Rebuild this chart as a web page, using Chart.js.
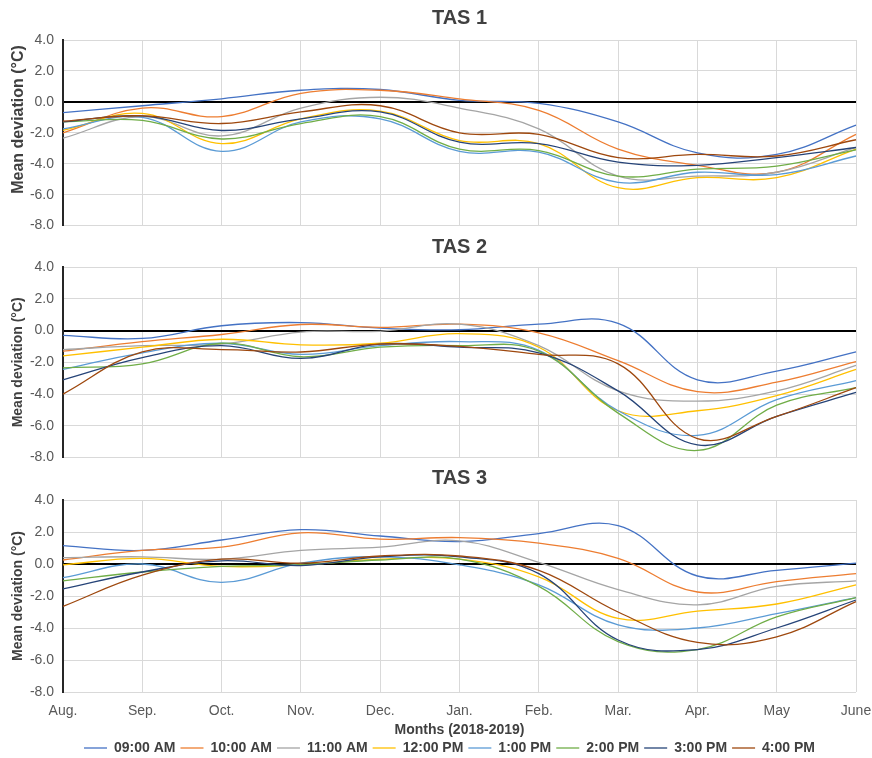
<!DOCTYPE html>
<html>
<head>
<meta charset="utf-8">
<script src="https://cdn.jsdelivr.net/npm/chart.js@4.4.1/dist/chart.umd.min.js"></script>
<style>
  body { margin: 0; background: #fff; width: 872px; height: 758px; overflow: hidden; position: relative; }
  canvas { position: absolute; left: 0; }
</style>
</head>
<body>
<canvas id="tas1" width="872" height="243" style="top:0"></canvas>
<canvas id="tas2" width="872" height="240" style="top:235px"></canvas>
<canvas id="tas3" width="900" height="292" style="top:466px"></canvas>
<script>
const months = ["Aug.", "Sep.", "Oct.", "Nov.", "Dec.", "Jan.", "Feb.", "Mar.", "Apr.", "May", "June"];
const hours = ["09:00 AM", "10:00 AM", "11:00 AM", "12:00 PM", "1:00 PM", "2:00 PM", "3:00 PM", "4:00 PM"];
const lineColors = ["#4472C4", "#ED7D31", "#A5A5A5", "#FFC000", "#5B9BD5", "#70AD47", "#264478", "#9E480E"];
const yTicks = [4, 2, 0, -2, -4, -6, -8];

// one row per hour, one value per month
const tas1 = [
  [-0.7, -0.25, 0.2, 0.75, 0.8, 0.1, -0.1, -1.3, -3.3, -3.4, -1.5],
  [-2.0, -0.4, -0.95, 0.55, 0.75, 0.2, -0.55, -3.05, -4.1, -4.55, -2.1],
  [-2.35, -0.95, -2.2, -0.4, 0.3, -0.4, -1.75, -4.8, -4.8, -4.55, -2.95],
  [-1.85, -0.75, -2.7, -1.1, -0.6, -2.5, -2.7, -5.55, -4.9, -4.9, -3.05],
  [-1.75, -1.0, -3.2, -1.3, -1.1, -3.2, -3.25, -5.2, -4.55, -4.7, -3.5],
  [-1.3, -1.2, -2.4, -1.4, -0.95, -3.05, -3.15, -4.8, -4.35, -4.15, -3.1],
  [-1.3, -0.9, -1.85, -1.1, -0.65, -2.6, -2.7, -3.9, -4.1, -3.6, -2.95],
  [-1.25, -0.9, -1.4, -0.65, -0.25, -2.0, -2.1, -3.6, -3.4, -3.5, -2.45]
];
const tas2 = [
  [-0.3, -0.5, 0.3, 0.5, 0.15, 0.05, 0.4, 0.45, -3.1, -2.55, -1.35],
  [-1.3, -0.7, -0.25, 0.38, 0.2, 0.4, -0.15, -1.9, -3.85, -3.25, -1.95],
  [-1.2, -0.95, -0.85, -0.1, -0.05, 0.4, -0.95, -3.8, -4.45, -3.8, -2.2],
  [-1.6, -1.05, -0.55, -0.9, -0.8, -0.2, -1.05, -5.05, -5.05, -4.1, -2.45],
  [-2.45, -1.4, -0.8, -1.5, -0.95, -0.7, -1.25, -5.05, -6.6, -4.35, -3.15],
  [-2.35, -2.1, -0.8, -1.65, -1.05, -0.95, -1.3, -5.2, -7.55, -4.7, -3.6],
  [-3.1, -1.7, -0.95, -1.75, -0.85, -1.05, -1.4, -3.8, -7.2, -5.4, -3.9],
  [-4.0, -1.35, -1.2, -1.35, -0.85, -1.0, -1.5, -2.1, -6.8, -5.4, -3.6]
];
const tas3 = [
  [1.15, 0.85, 1.5, 2.15, 1.75, 1.4, 1.9, 2.4, -0.75, -0.4, 0.05],
  [0.25, 0.85, 1.05, 1.95, 1.55, 1.65, 1.3, 0.35, -1.75, -1.1, -0.6],
  [0.4, 0.45, 0.3, 0.85, 1.05, 1.45, 0.1, -1.6, -2.55, -1.4, -1.05],
  [-0.05, 0.35, -0.15, -0.05, 0.3, 0.3, -0.8, -3.4, -2.95, -2.5, -1.3],
  [-0.85, 0.0, -1.15, 0.05, 0.45, -0.05, -1.3, -3.8, -4.0, -3.1, -2.1],
  [-1.05, -0.5, -0.15, -0.05, 0.25, 0.3, -1.4, -4.85, -5.35, -3.3, -2.1],
  [-1.55, -0.5, 0.2, -0.1, 0.45, 0.45, -0.6, -4.75, -5.35, -4.0, -2.25],
  [-2.65, -0.7, 0.3, 0.05, 0.5, 0.5, -0.4, -3.0, -4.9, -4.55, -2.35]
];

Chart.defaults.font.family = "'Liberation Sans', Arial, sans-serif";
Chart.defaults.animation = false;

// nudge the legend a bit left of the plot centre, as in the original
const legendShift = {
  id: "legendShift",
  afterLayout(chart) {
    if (chart.legend && chart.legend.options.display) {
      chart.legend.left -= 10;
      chart.legend.right -= 10;
    }
  }
};

function makeChart(id, title, rows, bottom, titlePad, yTitle) {
  const datasets = rows.map((vals, i) => ({
    label: hours[i],
    data: vals,
    borderColor: lineColors[i],
    backgroundColor: lineColors[i],
    borderWidth: 1.3,
    pointRadius: 0,
    tension: 0.4,
    order: hours.length - i
  }));

  return new Chart(document.getElementById(id), {
    type: "line",
    data: { labels: months, datasets: datasets },
    plugins: [legendShift],
    options: {
      responsive: false,
      layout: { padding: { left: 0, right: bottom ? 44 : 16, top: 0, bottom: 0 } },
      plugins: {
        tooltip: { enabled: false },
        title: {
          display: true,
          text: title,
          fullSize: false,
          color: "#404040",
          font: { size: 20, weight: "bold" },
          padding: titlePad
        },
        legend: {
          display: bottom,
          position: "bottom",
          fullSize: false,
          maxHeight: 22,
          labels: {
            usePointStyle: true,
            pointStyle: "line",
            pointStyleWidth: 23,
            boxHeight: 2,
            padding: 5,
            color: "#404040",
            font: { size: 14, weight: "bold" },
            sort: (a, b) => a.datasetIndex - b.datasetIndex
          }
        }
      },
      scales: {
        x: {
          offset: false,
          afterFit: s => { if (bottom) s.height = 44; },
          grid: { color: "#d9d9d9", drawTicks: false },
          border: { display: false },
          ticks: { display: bottom, color: "#595959", font: { size: 14 }, padding: 11, maxRotation: 0 },
          title: {
            display: bottom,
            text: "Months (2018-2019)",
            color: "#404040",
            font: { size: 14, weight: "bold" },
            padding: { top: 0, bottom: -3 }
          }
        },
        y: {
          min: -8,
          max: 4,
          afterBuildTicks: s => { s.ticks = yTicks.map(v => ({ value: v })); },
          afterFit: s => { s.width = 63; },
          grid: {
            drawTicks: false,
            color: c => (c.tick && c.tick.value === 0 ? "#000000" : "#d9d9d9"),
            lineWidth: c => (c.tick && c.tick.value === 0 ? 2 : 1)
          },
          border: { color: "#262626", width: 2 },
          ticks: {
            color: "#595959",
            font: { size: 14 },
            padding: 9,
            callback: v => v.toFixed(1)
          },
          title: {
            display: true,
            text: yTitle.text,
            color: "#404040",
            font: { size: yTitle.size, weight: "bold" },
            padding: { top: yTitle.pad, bottom: 0 }
          }
        }
      }
    }
  });
}

makeChart("tas1", "TAS 1", tas1, false, { top: 6, bottom: 10 },
  { text: "      Mean deviation (°C)", size: 16, pad: 9 });
makeChart("tas2", "TAS 2", tas2, false, { top: 0, bottom: 8 },
  { text: "Mean deviation (°C)", size: 14, pad: 10 });
makeChart("tas3", "TAS 3", tas3, true, { top: 0, bottom: 10 },
  { text: "Mean deviation (°C)", size: 14, pad: 10 });
</script>
</body>
</html>
